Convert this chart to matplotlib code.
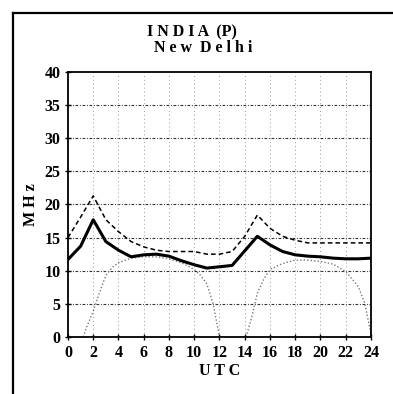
import numpy as np
import matplotlib.pyplot as plt
from matplotlib.lines import Line2D

# hourly predictions, New Delhi
hours = list(range(25))
muf = [11.7, 13.7, 17.7, 14.4, 13.1, 12.1, 12.4, 12.5, 12.2, 11.5, 10.9, 10.4, 10.6,
       10.8, 13.0, 15.2, 13.9, 12.9, 12.4, 12.2, 12.1, 11.9, 11.8, 11.8, 11.9]
upper = [15.0, 18.1, 21.3, 17.7, 15.9, 14.4, 13.6, 13.1, 12.9, 12.9, 12.9, 12.5, 12.5,
         12.9, 15.2, 18.4, 16.4, 15.2, 14.6, 14.2, 14.2, 14.2, 14.2, 14.2, 14.2]

# lower limit, two daytime arcs
lo_hours_1 = [1.2, 1.5, 2.0, 2.5, 3.0, 3.5, 4.0, 5.0, 6.0, 7.0, 8.0, 9.0, 10.0, 10.5, 11.0, 11.5, 12.0]
lo_mhz_1 = [0.0, 1.6, 3.9, 6.7, 9.3, 10.5, 11.2, 11.9, 12.1, 12.1, 11.8, 11.2, 10.2, 9.3, 8.0, 5.0, 0.0]
lo_hours_2 = [14.1, 14.5, 15.0, 15.5, 16.0, 17.0, 18.0, 19.0, 20.0, 21.0, 22.0, 23.0, 23.5, 24.0]
lo_mhz_2 = [0.0, 2.6, 6.6, 8.7, 10.2, 11.1, 11.6, 11.6, 11.4, 11.0, 9.9, 7.6, 5.1, 0.5]

xticks = list(range(0, 25, 2))
yticks = list(range(0, 41, 5))

fnt = 'Liberation Serif'

fig = plt.figure(figsize=(3.93, 3.94), dpi=100)
ax = fig.add_axes([0.173, 0.1447, 0.771, 0.6726])

# horizontal grid dash-dot, vertical grid faint dots
for y in yticks[1:-1]:
    ax.axhline(y, color='#333333', lw=0.8, ls=(0, (2.5, 1.5, 0.8, 1.5)), zorder=1)
for x in xticks[1:-1]:
    ax.axvline(x, color='#999999', lw=0.7, ls=(0, (1, 3)), zorder=1)

ax.plot(hours, muf, color='black', lw=2.2, zorder=4)
ax.plot(hours, upper, color='black', lw=1.1, ls=(0, (3, 2)), zorder=3)
ax.plot(lo_hours_1, lo_mhz_1, color='#777777', lw=1.0, ls=(0, (1, 1.5)), zorder=2)
ax.plot(lo_hours_2, lo_mhz_2, color='#777777', lw=1.0, ls=(0, (1, 1.5)), zorder=2)

ax.set_xlim(0, 24)
ax.set_ylim(0, 40)
ax.set_xticks(xticks)
ax.set_yticks(yticks)
ax.tick_params(direction='inout', length=5, width=1, pad=3)
for lab in ax.get_xticklabels() + ax.get_yticklabels():
    lab.set_fontfamily(fnt)
    lab.set_fontweight('bold')
    lab.set_fontsize(11.5)
for s in ax.spines.values():
    s.set_linewidth(1.3)

ax.set_xlabel('U T C', fontfamily=fnt, fontweight='bold', fontsize=11.5, labelpad=2)
ax.set_ylabel('M H z', fontfamily=fnt, fontweight='bold', fontsize=11.5, labelpad=4)

fig.text(0.488, 0.918, 'I N D I A  (P)', ha='center', va='center',
         fontfamily=fnt, fontweight='bold', fontsize=11.5)
fig.text(0.517, 0.877, 'N e w  D e l h i', ha='center', va='center',
         fontfamily=fnt, fontweight='bold', fontsize=11.5)

# page border
fig.add_artist(Line2D([0.033, 0.033], [0.0, 0.968], transform=fig.transFigure, color='black', lw=1.6))
fig.add_artist(Line2D([0.033, 1.0], [0.968, 0.968], transform=fig.transFigure, color='black', lw=1.6))

fig.savefig('out.png', dpi=100)
